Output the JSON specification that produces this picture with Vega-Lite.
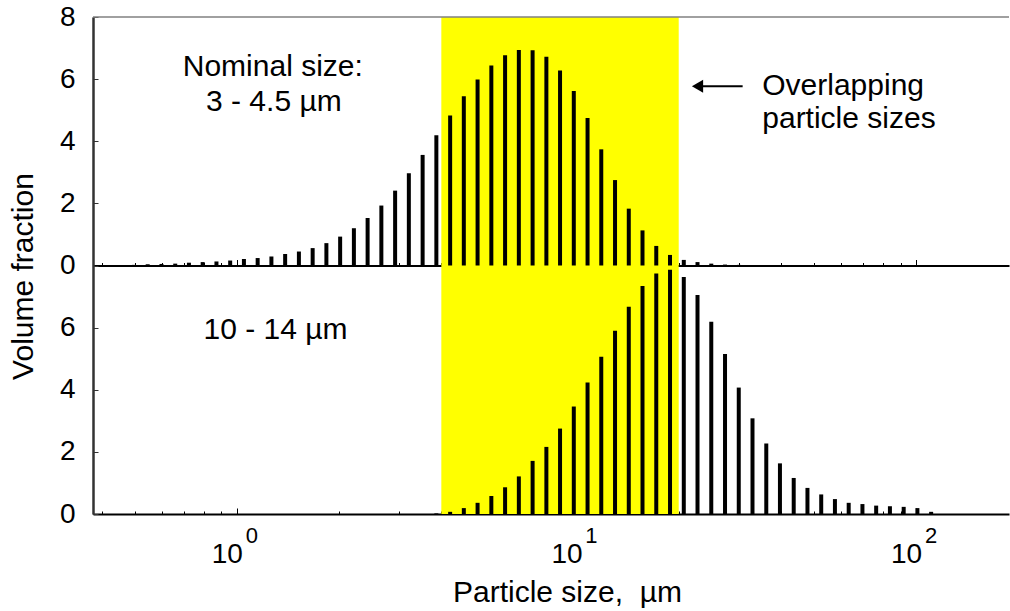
{
  "$schema": "https://vega.github.io/schema/vega-lite/v6.json",
  "width": 1010,
  "height": 611,
  "autosize": {"type": "fit", "contains": "padding"},
  "padding": {"left": 8, "top": 3, "right": 0, "bottom": 4},
  "background": "#ffffff",
  "config": {
    "font": "Liberation Sans",
    "view": {"stroke": null},
    "axis": {"grid": false, "labelFont": "Liberation Sans", "titleFont": "Liberation Sans", "labelColor": "#000000", "titleColor": "#000000", "titleFontWeight": "normal", "zindex": 1}
  },
  "datasets": {
    "psd": [
      {"size": 0.4980, "panel": "top", "fraction": 0.02},
      {"size": 0.5463, "panel": "top", "fraction": 0.04},
      {"size": 0.5998, "panel": "top", "fraction": 0.05},
      {"size": 0.6585, "panel": "top", "fraction": 0.06},
      {"size": 0.7226, "panel": "top", "fraction": 0.09},
      {"size": 0.7932, "panel": "top", "fraction": 0.11},
      {"size": 0.8708, "panel": "top", "fraction": 0.13},
      {"size": 0.9557, "panel": "top", "fraction": 0.16},
      {"size": 1.0491, "panel": "top", "fraction": 0.21},
      {"size": 1.1515, "panel": "top", "fraction": 0.24},
      {"size": 1.2640, "panel": "top", "fraction": 0.29},
      {"size": 1.3874, "panel": "top", "fraction": 0.37},
      {"size": 1.5230, "panel": "top", "fraction": 0.45},
      {"size": 1.6718, "panel": "top", "fraction": 0.56},
      {"size": 1.8350, "panel": "top", "fraction": 0.72},
      {"size": 2.0143, "panel": "top", "fraction": 0.93},
      {"size": 2.2111, "panel": "top", "fraction": 1.20},
      {"size": 2.4266, "panel": "top", "fraction": 1.53},
      {"size": 2.6637, "panel": "top", "fraction": 1.93},
      {"size": 2.9242, "panel": "top", "fraction": 2.41},
      {"size": 3.2094, "panel": "top", "fraction": 2.97},
      {"size": 3.5237, "panel": "top", "fraction": 3.56},
      {"size": 3.8675, "panel": "top", "fraction": 4.19},
      {"size": 4.2462, "panel": "top", "fraction": 4.83},
      {"size": 4.6589, "panel": "top", "fraction": 5.45},
      {"size": 5.1144, "panel": "top", "fraction": 5.99},
      {"size": 5.6145, "panel": "top", "fraction": 6.44},
      {"size": 6.1631, "panel": "top", "fraction": 6.77},
      {"size": 6.7657, "panel": "top", "fraction": 6.94},
      {"size": 7.4270, "panel": "top", "fraction": 6.93},
      {"size": 8.1539, "panel": "top", "fraction": 6.72},
      {"size": 8.9457, "panel": "top", "fraction": 6.28},
      {"size": 9.8198, "panel": "top", "fraction": 5.62},
      {"size": 10.780, "panel": "top", "fraction": 4.75},
      {"size": 11.830, "panel": "top", "fraction": 3.74},
      {"size": 12.988, "panel": "top", "fraction": 2.75},
      {"size": 14.256, "panel": "top", "fraction": 1.83},
      {"size": 15.646, "panel": "top", "fraction": 1.13},
      {"size": 17.176, "panel": "top", "fraction": 0.63},
      {"size": 18.856, "panel": "top", "fraction": 0.34},
      {"size": 20.700, "panel": "top", "fraction": 0.18},
      {"size": 22.718, "panel": "top", "fraction": 0.11},
      {"size": 24.940, "panel": "top", "fraction": 0.06},
      {"size": 27.377, "panel": "top", "fraction": 0.03},
      {"size": 30.049, "panel": "top", "fraction": 0.02},
      {"size": 3.8675, "panel": "bottom", "fraction": 0.02},
      {"size": 4.2462, "panel": "bottom", "fraction": 0.07},
      {"size": 4.6589, "panel": "bottom", "fraction": 0.19},
      {"size": 5.1144, "panel": "bottom", "fraction": 0.36},
      {"size": 5.6145, "panel": "bottom", "fraction": 0.58},
      {"size": 6.1631, "panel": "bottom", "fraction": 0.86},
      {"size": 6.7657, "panel": "bottom", "fraction": 1.21},
      {"size": 7.4270, "panel": "bottom", "fraction": 1.71},
      {"size": 8.1539, "panel": "bottom", "fraction": 2.16},
      {"size": 8.9457, "panel": "bottom", "fraction": 2.75},
      {"size": 9.8198, "panel": "bottom", "fraction": 3.46},
      {"size": 10.780, "panel": "bottom", "fraction": 4.23},
      {"size": 11.830, "panel": "bottom", "fraction": 5.06},
      {"size": 12.988, "panel": "bottom", "fraction": 5.90},
      {"size": 14.256, "panel": "bottom", "fraction": 6.67},
      {"size": 15.646, "panel": "bottom", "fraction": 7.34},
      {"size": 17.176, "panel": "bottom", "fraction": 7.74},
      {"size": 18.856, "panel": "bottom", "fraction": 7.86},
      {"size": 20.700, "panel": "bottom", "fraction": 7.63},
      {"size": 22.718, "panel": "bottom", "fraction": 7.05},
      {"size": 24.940, "panel": "bottom", "fraction": 6.19},
      {"size": 27.377, "panel": "bottom", "fraction": 5.15},
      {"size": 30.049, "panel": "bottom", "fraction": 4.07},
      {"size": 32.982, "panel": "bottom", "fraction": 3.08},
      {"size": 36.212, "panel": "bottom", "fraction": 2.27},
      {"size": 39.727, "panel": "bottom", "fraction": 1.63},
      {"size": 43.614, "panel": "bottom", "fraction": 1.16},
      {"size": 47.874, "panel": "bottom", "fraction": 0.84},
      {"size": 52.556, "panel": "bottom", "fraction": 0.63},
      {"size": 57.677, "panel": "bottom", "fraction": 0.48},
      {"size": 63.317, "panel": "bottom", "fraction": 0.36},
      {"size": 69.503, "panel": "bottom", "fraction": 0.32},
      {"size": 76.279, "panel": "bottom", "fraction": 0.27},
      {"size": 83.738, "panel": "bottom", "fraction": 0.25},
      {"size": 91.924, "panel": "bottom", "fraction": 0.23},
      {"size": 100.88, "panel": "bottom", "fraction": 0.19},
      {"size": 110.74, "panel": "bottom", "fraction": 0.07}
    ]
  },
  "layer": [
    {
      "data": {"values": [{"from": 4, "to": 20}]},
      "mark": {"type": "rect", "color": "#ffff00"},
      "encoding": {
        "x": {
          "field": "from", "type": "quantitative",
          "scale": {"type": "log", "domain": [0.37708, 187.73], "nice": false},
          "axis": {"orient": "bottom", "values": [1, 10, 100], "labelExpr": "datum.value == 1 ? '0' : datum.value == 10 ? '1' : '2'", "ticks": false, "domain": false, "labelFontSize": 22, "labelPadding": 11, "labelOffset": 14.5, "labelOverlap": false, "labelFlush": false, "title": null}
        },
        "x2": {"field": "to"}
      }
    },
    {
      "layer": [
        {
          "data": {"name": "psd"},
          "transform": [{"filter": "datum.panel == 'top'"}],
          "mark": {"type": "rule", "strokeWidth": 4, "color": "#000000"},
          "encoding": {
            "x": {
              "field": "size", "type": "quantitative",
              "scale": {"type": "log", "domain": [0.37708, 187.73], "nice": false},
              "axis": {"orient": "top", "offset": {"expr": "-height/2"}, "values": [0.4, 0.5, 0.6, 0.7, 0.8, 0.9, 1, 2, 3, 4, 5, 6, 7, 8, 9, 10, 20, 30, 40, 50, 60, 70, 80, 90, 100], "labels": false, "domain": true, "domainColor": "#000000", "domainWidth": 2, "tickColor": "#000000", "tickWidth": 1, "tickSize": {"condition": {"test": "datum.value == 1 || datum.value == 10 || datum.value == 100", "value": 6}, "value": 3}, "title": null}
            },
            "y": {
              "field": "fraction", "type": "quantitative",
              "scale": {"domain": [-8, 8], "nice": false, "zero": false},
              "axis": {"orient": "left", "values": [0, 2, 4, 6, 8], "tickSize": -5, "labelPadding": 23, "labelFontSize": 28, "labelFlush": false, "labelOverlap": false, "domainColor": "#333333", "domainWidth": 2, "tickColor": "#333333", "title": null}
            },
            "y2": {"datum": 0}
          }
        },
        {
          "data": {"values": [{"level": 8}]},
          "mark": {"type": "rule", "color": "#808080", "strokeWidth": 1.5},
          "encoding": {
            "y": {"field": "level", "type": "quantitative", "scale": {"domain": [-8, 8], "nice": false, "zero": false}}
          }
        },
        {
          "data": {"values": [
            {"size": 1.276, "fraction": 6.11, "label": "Nominal size:"},
            {"size": 1.285, "fraction": 4.96, "label": "3 - 4.5 µm"}
          ]},
          "mark": {"type": "text", "fontSize": 30, "align": "center", "baseline": "alphabetic", "color": "#000000", "font": "Liberation Sans"},
          "encoding": {
            "x": {"field": "size", "type": "quantitative", "scale": {"type": "log", "domain": [0.37708, 187.73], "nice": false}},
            "y": {"field": "fraction", "type": "quantitative", "scale": {"domain": [-8, 8], "nice": false, "zero": false}},
            "text": {"field": "label"}
          }
        },
        {
          "data": {"values": [
            {"size": 35.24, "fraction": 5.50, "label": "Overlapping"},
            {"size": 35.24, "fraction": 4.43, "label": "particle sizes"}
          ]},
          "mark": {"type": "text", "fontSize": 30, "align": "left", "baseline": "alphabetic", "color": "#000000", "font": "Liberation Sans"},
          "encoding": {
            "x": {"field": "size", "type": "quantitative", "scale": {"type": "log", "domain": [0.37708, 187.73], "nice": false}},
            "y": {"field": "fraction", "type": "quantitative", "scale": {"domain": [-8, 8], "nice": false, "zero": false}},
            "text": {"field": "label"}
          }
        },
        {
          "data": {"values": [{"size": 22.72, "size2": 30.85, "fraction": 5.77}]},
          "mark": {"type": "rule", "strokeWidth": 2, "color": "#000000"},
          "encoding": {
            "x": {"field": "size", "type": "quantitative", "scale": {"type": "log", "domain": [0.37708, 187.73], "nice": false}},
            "x2": {"field": "size2"},
            "y": {"field": "fraction", "type": "quantitative", "scale": {"domain": [-8, 8], "nice": false, "zero": false}}
          }
        },
        {
          "data": {"values": [{"size": 22.72, "fraction": 5.77}]},
          "mark": {"type": "point", "shape": "triangle-left", "filled": true, "size": 169, "color": "#000000", "opacity": 1},
          "encoding": {
            "x": {"field": "size", "type": "quantitative", "scale": {"type": "log", "domain": [0.37708, 187.73], "nice": false}},
            "y": {"field": "fraction", "type": "quantitative", "scale": {"domain": [-8, 8], "nice": false, "zero": false}}
          }
        }
      ]
    },
    {
      "layer": [
        {
          "data": {"name": "psd"},
          "transform": [{"filter": "datum.panel == 'bottom'"}],
          "mark": {"type": "rule", "strokeWidth": 4, "color": "#000000"},
          "encoding": {
            "x": {
              "field": "size", "type": "quantitative",
              "scale": {"type": "log", "domain": [0.37708, 187.73], "nice": false},
              "axis": {"orient": "bottom", "values": [0.4, 0.5, 0.6, 0.7, 0.8, 0.9, 1, 2, 3, 4, 5, 6, 7, 8, 9, 10, 20, 30, 40, 50, 60, 70, 80, 90, 100], "labelExpr": "datum.value == 1 || datum.value == 10 || datum.value == 100 ? '10' : ''", "labelFontSize": 28, "labelOffset": -10, "labelPadding": 32, "labelOverlap": false, "labelFlush": false, "domainColor": "#000000", "domainWidth": 2, "tickColor": "#000000", "tickWidth": 1, "tickSize": {"condition": {"test": "datum.value == 1 || datum.value == 10 || datum.value == 100", "value": -6}, "value": -3}, "title": "Particle size,\u00a0 µm", "titleFontSize": 30, "titlePadding": 6, "titleX": 474}
            },
            "y": {
              "field": "fraction", "type": "quantitative",
              "scale": {"domain": [0, 16], "nice": false, "zero": false},
              "axis": {"orient": "left", "values": [0, 2, 4, 6], "tickSize": -5, "labelPadding": 23, "labelFontSize": 28, "labelFlush": false, "labelOverlap": false, "domainColor": "#333333", "domainWidth": 2, "tickColor": "#333333", "title": "Volume fraction", "titleFontSize": 30, "titleX": -61, "titleY": 259, "titleBaseline": "alphabetic"}
            },
            "y2": {"datum": 0}
          }
        },
        {
          "data": {"values": [{"size": 1.30, "fraction": 5.63, "label": "10 - 14 µm"}]},
          "mark": {"type": "text", "fontSize": 30, "align": "center", "baseline": "alphabetic", "color": "#000000", "font": "Liberation Sans"},
          "encoding": {
            "x": {"field": "size", "type": "quantitative", "scale": {"type": "log", "domain": [0.37708, 187.73], "nice": false}},
            "y": {"field": "fraction", "type": "quantitative", "scale": {"domain": [0, 16], "nice": false, "zero": false}},
            "text": {"field": "label"}
          }
        }
      ]
    }
  ],
  "resolve": {"scale": {"y": "independent"}, "axis": {"x": "independent", "y": "independent"}}
}
